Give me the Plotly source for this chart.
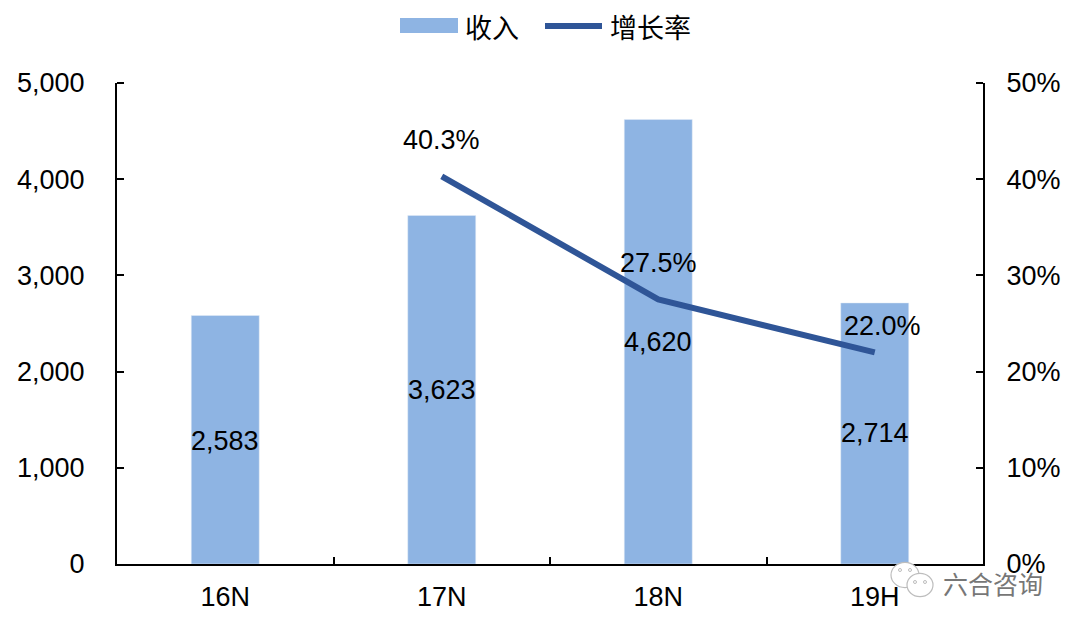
import plotly.graph_objects as go

categories = ["16N", "17N", "18N", "19H"]
revenue = [2583, 3623, 4620, 2714]
growth_cats = ["17N", "18N", "19H"]
growth = [40.3, 27.5, 22.0]
rev_labels = ["2,583", "3,623", "4,620", "2,714"]
growth_labels = ["40.3%", "27.5%", "22.0%"]
left_ticks = [0, 1000, 2000, 3000, 4000, 5000]
left_text = ["0", "1,000", "2,000", "3,000", "4,000", "5,000"]
right_ticks = [0, 10, 20, 30, 40, 50]
right_text = ["0%", "10%", "20%", "30%", "40%", "50%"]

rev_label_pos = [1279, 1809, 2308, 1362]
growth_label_pos = [44.1, 31.3, 24.7]
growth_label_xshift = [0, 0, 8]

FONT = "Liberation Sans, Arial, sans-serif"
CJK = "Noto Sans CJK SC"
BLUE = "#8EB4E3"
DARK = "#2F5597"
W, H = 1064, 614
L, R, T, B = 109, 89, 75, 58
PW, PH = W - L - R, H - T - B


def px(x):
    """Page pixel x to paper fraction of the plot area."""
    return (x - 8 - L) / PW


def py(y):
    """Page pixel y to paper fraction of the plot area."""
    return 1 - (y - 8 - T) / PH


fig = go.Figure()
fig.add_trace(go.Bar(x=categories, y=revenue, name="收入", marker_color=BLUE, width=0.314, showlegend=False))
fig.add_trace(go.Scatter(x=growth_cats, y=growth, name="增长率", mode="lines", yaxis="y2",
                         line=dict(color=DARK, width=6), showlegend=False))

for c, p, t in zip(categories, rev_label_pos, rev_labels):
    fig.add_annotation(x=c, y=p, xref="x", yref="y", text=t, showarrow=False,
                       font=dict(size=27, color="black", family=FONT))
for c, p, t, s in zip(growth_cats, growth_label_pos, growth_labels, growth_label_xshift):
    fig.add_annotation(x=c, y=p, xref="x", yref="y2", text=t, showarrow=False, xshift=s,
                       font=dict(size=27, color="black", family=FONT))

# legend keys and labels, placed above the plot area
fig.add_shape(type="rect", xref="paper", yref="paper", x0=px(400), x1=px(458), y0=py(33), y1=py(18),
              fillcolor=BLUE, line=dict(width=0), layer="above")
fig.add_shape(type="line", xref="paper", yref="paper", x0=px(545), x1=px(602), y0=py(26), y1=py(26),
              line=dict(color=DARK, width=6), layer="above")
for lx, name in [(463, "收入"), (608, "增长率")]:
    fig.add_annotation(x=px(lx), y=py(26), xref="paper", yref="paper", xanchor="left", yanchor="middle",
                       text=name, showarrow=False, font=dict(size=27, color="black", family=CJK))

# top-end ticks that plotly drops for inside ticks
for x0, x1 in [(0, 7 / PW), (1 - 7 / PW, 1)]:
    fig.add_shape(type="line", xref="paper", yref="paper", x0=x0, x1=x1, y0=1, y1=1,
                  line=dict(color="black", width=2), layer="above")

# WeChat-style watermark
for cx, cy, r in [(905, 575, 14), (920, 585, 13)]:
    fig.add_shape(type="circle", xref="paper", yref="paper", x0=px(cx - r), x1=px(cx + r),
                  y0=py(cy + r * 0.9), y1=py(cy - r * 0.9), line=dict(color="#BDBDBD", width=1.2),
                  fillcolor="white", layer="above")
for ex, ey in [(900, 570), (910, 570), (915, 582), (925, 582)]:
    fig.add_shape(type="circle", xref="paper", yref="paper", x0=px(ex - 1.5), x1=px(ex + 1.5),
                  y0=py(ey + 1.5), y1=py(ey - 1.5), line=dict(color="#BDBDBD", width=1),
                  fillcolor="white", layer="above")
fig.add_annotation(x=px(1045), y=py(583), xref="paper", yref="paper", xanchor="right", yanchor="middle",
                   text="六合咨询", showarrow=False,
                   font=dict(size=25, color="#777777", family=CJK))

fig.update_layout(
    width=W, height=H, paper_bgcolor="white", plot_bgcolor="white", showlegend=False,
    margin=dict(l=L, r=R, t=T, b=B, autoexpand=False),
    font=dict(family=FONT, size=27, color="black"),
    xaxis=dict(type="category", categoryorder="array", categoryarray=categories,
               showline=True, linecolor="black", linewidth=2, tickson="boundaries",
               ticks="inside", ticklen=7, tickcolor="black", tickwidth=1.5, showgrid=False,
               ticklabelstandoff=8),
    yaxis=dict(range=[0, 5000], tickvals=left_ticks, ticktext=left_text, showline=True,
               linecolor="black", linewidth=2, ticks="inside", ticklen=7, tickcolor="black",
               tickwidth=1.5, showgrid=False, zeroline=False, ticklabelstandoff=25),
    yaxis2=dict(range=[0, 50], overlaying="y", side="right", tickvals=right_ticks, ticktext=right_text,
                showline=True, linecolor="black", linewidth=2, ticks="inside", ticklen=7,
                tickcolor="black", tickwidth=1.5, showgrid=False, zeroline=False, ticklabelstandoff=16),
)
fig.write_html("out.html")
